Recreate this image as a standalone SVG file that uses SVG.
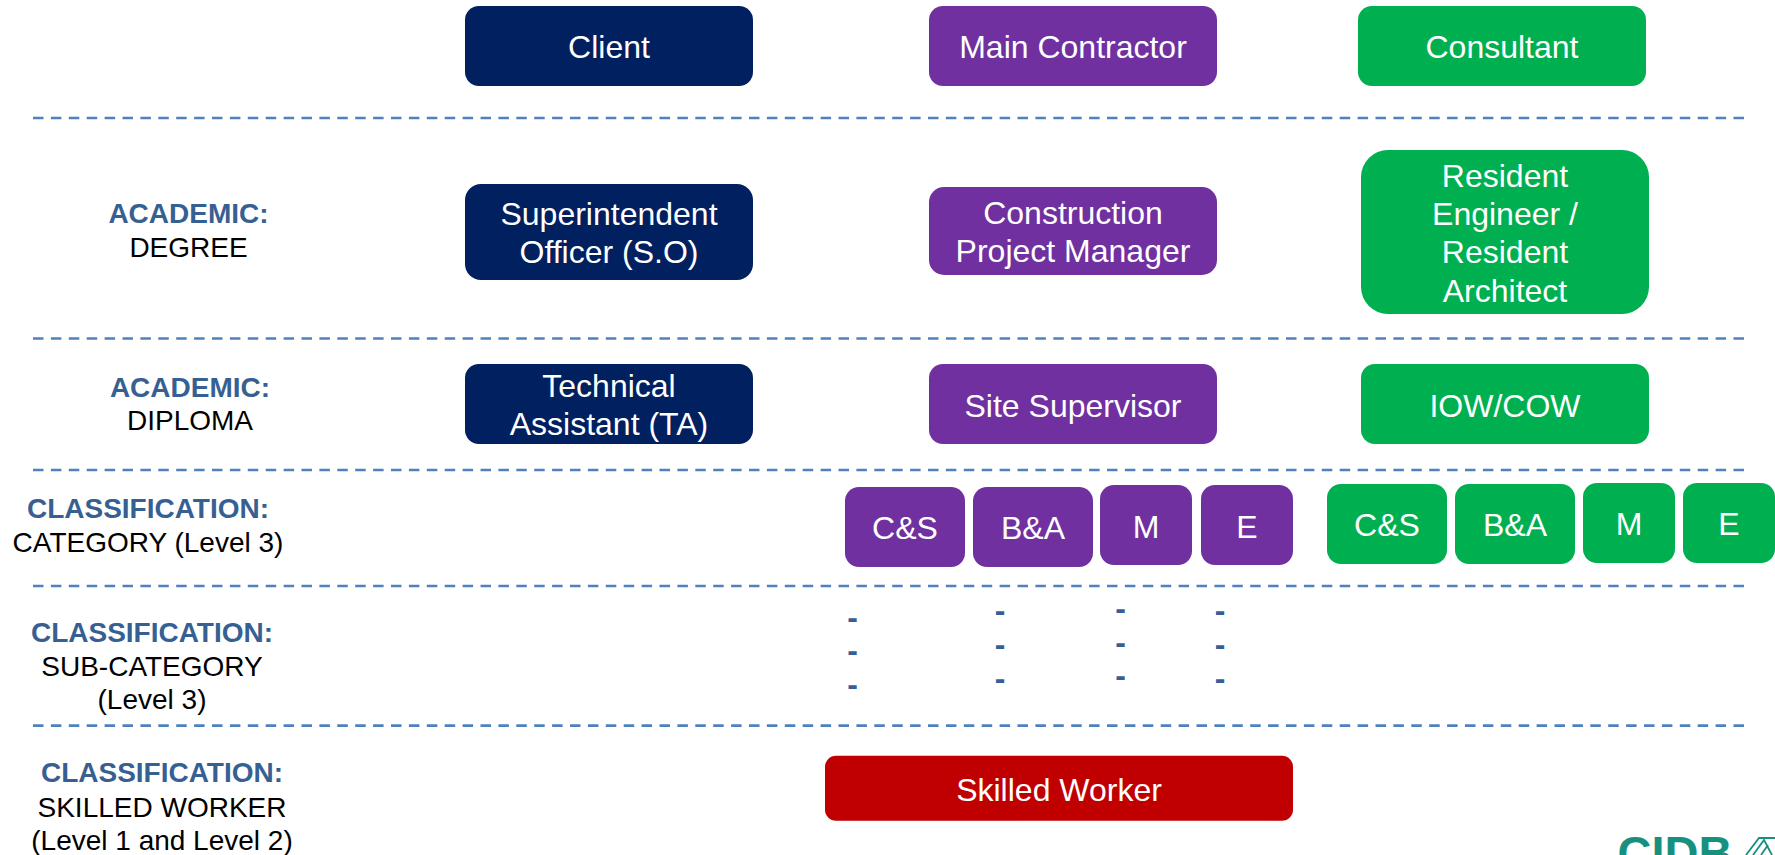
<svg xmlns="http://www.w3.org/2000/svg" width="1775" height="855" viewBox="0 0 1775 855">
<style>
text{font-family:"Liberation Sans",Arial,sans-serif;text-anchor:middle}
.box text{font-size:32px;fill:#fff}
.navy rect{fill:#002060}.purple rect{fill:#7030a0}.green rect{fill:#00b050}.red rect{fill:#c00000}
.head{font-size:28px;font-weight:700;fill:#376092}
.sub{font-size:28px;fill:#000}
.tick{font-size:32px;font-weight:700;fill:#376092}
.div{stroke:#4f81bd;stroke-width:2.7;stroke-dasharray:10.500 7.400;fill:none}
</style>
<rect width="1775" height="855" fill="#fff"/>
<g id="connectors">
<path class="div" d="M33 118H1745"/>
<path class="div" d="M33 338.500H1745"/>
<path class="div" d="M33 470H1745"/>
<path class="div" d="M33 586H1745"/>
<path class="div" d="M33 725.700H1745"/>
</g>
<g id="row-labels">
<g id="label-degree"><text class="head" x="188.500" y="223">ACADEMIC:</text><text class="sub" x="188.500" y="257">DEGREE</text></g>
<g id="label-diploma"><text class="head" x="190" y="397">ACADEMIC:</text><text class="sub" x="190" y="430">DIPLOMA</text></g>
<g id="label-category"><text class="head" x="148" y="518">CLASSIFICATION:</text><text class="sub" x="148" y="552">CATEGORY (Level 3)</text></g>
<g id="label-subcategory"><text class="head" x="152" y="641.500">CLASSIFICATION:</text><text class="sub" x="152" y="676">SUB-CATEGORY</text><text class="sub" x="152" y="709">(Level 3)</text></g>
<g id="label-skilled"><text class="head" x="162" y="782">CLASSIFICATION:</text><text class="sub" x="162" y="817">SKILLED WORKER</text><text class="sub" x="162" y="850">(Level 1 and Level 2)</text></g>
</g>
<g id="client" class="box navy"><rect x="465" y="6" width="288" height="80" rx="14"/><text x="609" y="58">Client</text></g>
<g id="main-contractor" class="box purple"><rect x="929" y="6" width="288" height="80" rx="14"/><text x="1073" y="58">Main Contractor</text></g>
<g id="consultant" class="box green"><rect x="1358" y="6" width="288" height="80" rx="14"/><text x="1502" y="58">Consultant</text></g>
<g id="superintendent" class="box navy"><rect x="465" y="184" width="288" height="96" rx="16"/><text x="609" y="225">Superintendent</text><text x="609" y="262.500">Officer (S.O)</text></g>
<g id="construction-pm" class="box purple"><rect x="929" y="187" width="288" height="88" rx="15"/><text x="1073" y="224">Construction</text><text x="1073" y="262">Project Manager</text></g>
<g id="resident" class="box green"><rect x="1361" y="150" width="288" height="164" rx="27"/><text x="1505" y="187">Resident</text><text x="1505" y="225">Engineer /</text><text x="1505" y="263">Resident</text><text x="1505" y="302">Architect</text></g>
<g id="technical-assistant" class="box navy"><rect x="465" y="364" width="288" height="80" rx="14"/><text x="609" y="397">Technical</text><text x="609" y="435">Assistant (TA)</text></g>
<g id="site-supervisor" class="box purple"><rect x="929" y="364" width="288" height="80" rx="14"/><text x="1073" y="416.500">Site Supervisor</text></g>
<g id="iow-cow" class="box green"><rect x="1361" y="364" width="288" height="80" rx="14"/><text x="1505" y="416.500">IOW/COW</text></g>
<g id="mc-cs" class="box purple"><rect x="845" y="487" width="120" height="80" rx="14"/><text x="905" y="539">C&amp;S</text></g>
<g id="mc-ba" class="box purple"><rect x="973" y="487" width="120" height="80" rx="14"/><text x="1033" y="539">B&amp;A</text></g>
<g id="mc-m" class="box purple"><rect x="1100" y="485" width="92" height="80" rx="14"/><text x="1146" y="538">M</text></g>
<g id="mc-e" class="box purple"><rect x="1201" y="485" width="92" height="80" rx="14"/><text x="1247" y="538">E</text></g>
<g id="con-cs" class="box green"><rect x="1327" y="484" width="120" height="80" rx="14"/><text x="1387" y="535.500">C&amp;S</text></g>
<g id="con-ba" class="box green"><rect x="1455" y="484" width="120" height="80" rx="14"/><text x="1515" y="535.500">B&amp;A</text></g>
<g id="con-m" class="box green"><rect x="1583" y="483" width="92" height="80" rx="14"/><text x="1629" y="534.500">M</text></g>
<g id="con-e" class="box green"><rect x="1683" y="483" width="92" height="80" rx="14"/><text x="1729" y="534.500">E</text></g>
<g id="subcategory-ticks">
<text class="tick" x="852.500" y="628">-</text><text class="tick" x="852.500" y="661">-</text><text class="tick" x="852.500" y="695">-</text>
<text class="tick" x="1000" y="621">-</text><text class="tick" x="1000" y="655">-</text><text class="tick" x="1000" y="689">-</text>
<text class="tick" x="1120.500" y="619">-</text><text class="tick" x="1120.500" y="653">-</text><text class="tick" x="1120.500" y="686">-</text>
<text class="tick" x="1220" y="621">-</text><text class="tick" x="1220" y="655">-</text><text class="tick" x="1220" y="689">-</text>
</g>
<g id="skilled-worker" class="box red"><rect x="825" y="755.700" width="468" height="65" rx="11"/><text x="1059" y="800.500">Skilled Worker</text></g>
<g id="logo">
<text x="1675" y="869" style="font-size:47px;font-weight:700;fill:#17917f">CIDB</text>
<path d="M1746 855L1759 838H1775M1753 855L1764 840L1772 855M1761 855L1768 845" fill="none" stroke="#17917f" stroke-width="1.800"/>
</g>
</svg>
